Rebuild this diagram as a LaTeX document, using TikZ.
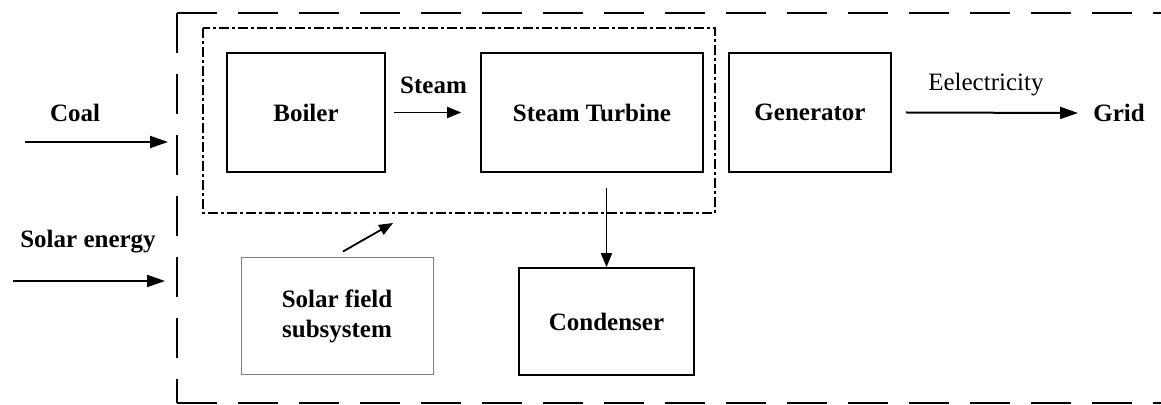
\documentclass[tikz,border=0pt]{standalone}
\usepackage{fontspec}
\setmainfont{Liberation Serif}
\usetikzlibrary{arrows.meta}

\tikzset{
    box/.style={draw, line width=0.8pt, inner sep=0pt, align=center,
        font=\fontsize{12.5}{15}\selectfont\bfseries},
    solarbox/.style={box, draw=black!50, line width=0.5pt},
    txt/.style={inner sep=0pt, font=\fontsize{12.5}{15}\selectfont\bfseries},
    frame/.style={line width=1.1pt, dash pattern=on 20pt off 10.5pt},
    plantline/.style={line width=0.6pt, dash pattern=on 5pt off 1.5pt on 1.5pt off 1.5pt},
    arr/.style={line width=1pt, -{Triangle[length=9pt,width=6pt]}},
    smallarr/.style={line width=0.9pt, -{Triangle[length=7pt,width=5.5pt]}}
}

\begin{document}
\begin{tikzpicture}[x=0.5pt, y=-0.5pt]
    \useasboundingbox (0,0) rectangle (1161,405);
    % outer boundary, open to the right
    \draw[frame] (177,13) -- (1161,13);
    \draw[frame] (177,13) -- (177,403);
    \draw[frame] (177,403) -- (1161,403);
    % plant boundary
    \draw[plantline] (203,28) rectangle (715,213);

    \node[box, minimum width=79pt, minimum height=59.5pt] (boiler) at (306,112.5) {Boiler};
    \node[box, minimum width=111pt, minimum height=59.5pt] (turbine) at (592,112.5) {Steam Turbine};
    \node[box, minimum width=81pt, minimum height=59.5pt] (generator) at (810,112.5) {Generator};
    \node[box, minimum width=87.5pt, minimum height=53.5pt] (condenser) at (606.5,321.5) {Condenser};
    \node[solarbox, minimum width=96pt, minimum height=58.5pt] (solar) at (337,316.5) {Solar field\\subsystem};

    \node[txt] (coal) at (75,113) {Coal};
    \node[txt] (sun) at (88,242) {Solar energy};
    \node[txt, anchor=west] (grid) at (1093,113) {Grid};
    \coordinate (coalin) at (25,142);
    \coordinate (coalout) at (168,142);
    \coordinate (sunin) at (13,281);
    \coordinate (sunout) at (165,281);
    \coordinate (solartip) at (393,223);

    \draw[arr] (coalin) -- (coalout);
    \draw[arr] (sunin) -- (sunout);
    \draw[smallarr] ([xshift=4pt]boiler.east) -- ([xshift=-9.5pt]turbine.west)
        node[midway, above=9pt, txt, xshift=3pt] {Steam};
    \draw[arr] ([xshift=7pt]generator.east) -- ([xshift=-7.5pt]grid.west)
        node[midway, above=8pt, inner sep=0pt, font=\fontsize{12.5}{15}\selectfont, xshift=-3pt] {Eelectricity};
    \draw[smallarr] ([yshift=-7.5pt]turbine.south -| condenser.north) -- (condenser.north);
    \draw[smallarr] ([shift={(3pt,3pt)}]solar.north) -- (solartip);
\end{tikzpicture}
\end{document}
